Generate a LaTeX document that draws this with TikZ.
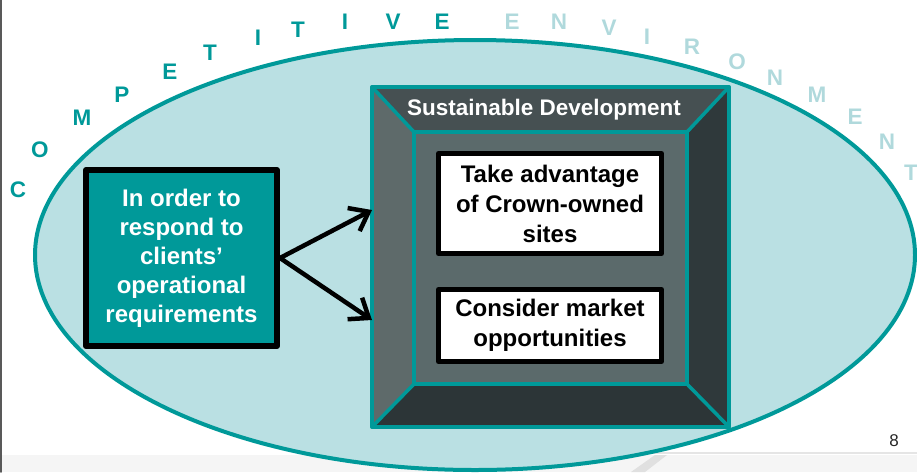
\documentclass[tikz,border=0pt]{standalone}
\usepackage{fontspec}
\setmainfont{Liberation Sans}
\usetikzlibrary{arrows.meta,calc}

\definecolor{envteal}{HTML}{009999}
\definecolor{envpale}{HTML}{BAE0E3}
\definecolor{envword}{HTML}{B0D9DC}
\definecolor{bevtop}{HTML}{465052}
\definecolor{bevleft}{HTML}{5E6A6A}
\definecolor{bevright}{HTML}{2F393B}
\definecolor{bevbot}{HTML}{2C3537}
\definecolor{bevface}{HTML}{5B6A6B}

\begin{document}
\begin{tikzpicture}[x=1pt,y=-1pt,line cap=round,line join=round,
    >={Straight Barb[length=17pt,width=26pt]},
    word/.style={font=\fontsize{22.5}{22.5}\selectfont\bfseries,inner sep=0pt},
    rim/.style={draw=envteal,line width=4pt},
    goal/.style={draw=black,line width=6pt,fill=envteal,text=white,align=center,
      font=\fontsize{24}{29}\selectfont\bfseries,minimum width=191pt,minimum height=176pt,inner sep=0pt},
    task/.style={draw=black,line width=5pt,fill=white,align=center,
      font=\fontsize{24}{30}\selectfont\bfseries,minimum width=223pt,inner sep=0pt},
    link/.style={draw=black,line width=4.5pt}]
  \useasboundingbox (0,0) rectangle (917,472);
  % slide footer and edge
  \fill[black!4] (0,455) rectangle (917,472);
  \draw[black!10,line width=1.5pt] (630,453) -- (917,453);
  \fill[black!12] (631,472) -- (655,455) -- (667,455) -- (645,472) -- cycle;
  \draw[black!65,line width=1.5pt] (0.75,0) -- (0.75,472);

  % the environment
  \draw[line width=4pt,draw=envteal,fill=envpale] (475,255) ellipse [x radius=440,y radius=215];
  \foreach \ch/\px/\py [count=\i] in {C/18/190,O/40/150,M/82/118,P/122/95,E/170/72,T/210/53,
      I/258/38,T/298/30,I/345/22,V/393/22,E/442/22}
    \node[word,text=envteal] (c\i) at (\px,\py) {\ch};
  \foreach \ch/\px/\py [count=\i] in {E/512/22,N/559/22,V/609/28,I/647/37,R/692/47,O/737/62,
      N/775/78,M/817/95,E/855/117,N/887/142,T/911/173}
    \node[word,text=envword] (e\i) at (\px,\py) {\ch};

  % bevelled frame
  \node[minimum width=357pt,minimum height=340pt,inner sep=0pt,outer sep=0pt] (frame) at (550.5,257) {};
  \node[minimum width=273pt,minimum height=252pt,inner sep=0pt,outer sep=0pt] (face) at (550.5,258) {};
  \fill[bevleft] (frame.north west) rectangle (frame.south east);
  \fill[bevtop] (frame.north west) -- (frame.north east) -- (face.north east) -- (face.north west) -- cycle;
  \fill[bevright] (frame.north east) -- (frame.south east) -- (face.south east) -- (face.north east) -- cycle;
  \fill[bevbot] (frame.south west) -- (frame.south east) -- (face.south east) -- (face.south west) -- cycle;
  \draw[rim,fill=bevface] (face.north west) rectangle (face.south east);
  \foreach \c in {north west,north east,south east,south west}
    \draw[rim,line width=3.5pt] (frame.\c) -- (face.\c);
  \draw[rim] (frame.north west) rectangle (frame.south east);
  \node[text=white,font=\fontsize{22.5}{27}\selectfont\bfseries] (title) at (544,110) {Sustainable Development};

  \node[task,minimum height=100pt] (take) at (550,203.5) {Take advantage\\of Crown-owned\\sites};
  \node[task,minimum height=72pt] (market) at (550,325.5) {Consider market\\opportunities};

  \node[goal] (goal) at (181.5,258) {In order to\\respond to\\clients’\\operational\\requirements};
  \draw[link,->] (goal.east) -- ($(frame.west)+(0,-47)$);
  \draw[link,->] (goal.east) -- ($(frame.west)+(0,63)$);

  \node[font=\fontsize{17}{17}\selectfont,text=black!85] (page) at (894,441) {8};
\end{tikzpicture}
\end{document}
